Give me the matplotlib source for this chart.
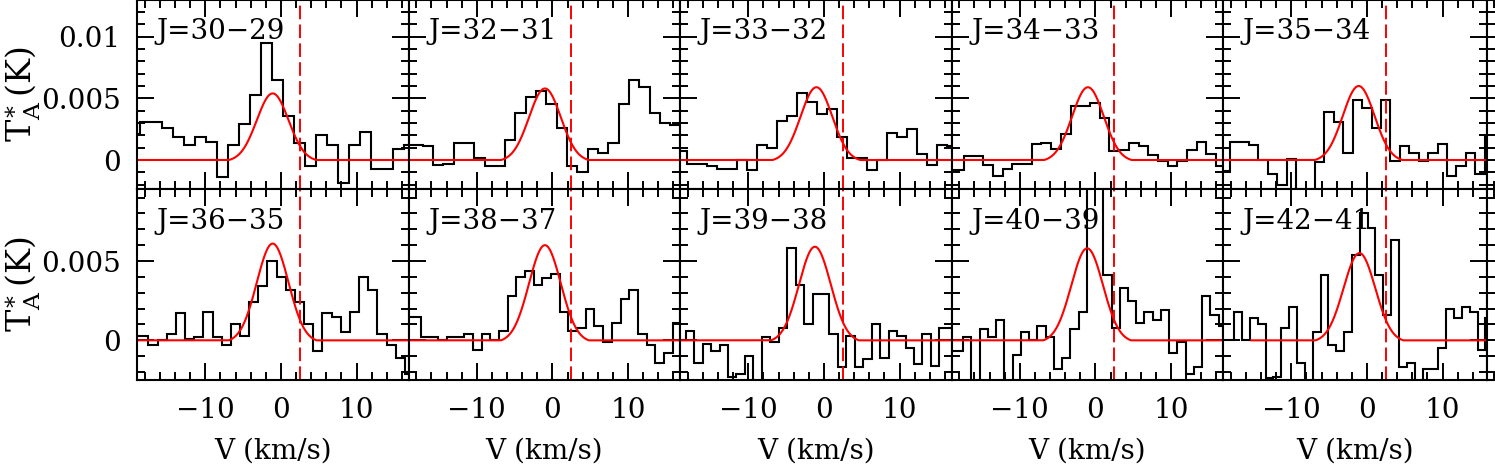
# -*- coding: utf-8 -*-
"""
Line spectra of ten rotational transitions with gaussian fits (2 x 5 panels)
"""

import numpy as np
import matplotlib
matplotlib.use("Agg")
import matplotlib.pyplot as plt
from matplotlib.ticker import MultipleLocator, FuncFormatter


plt.rcParams['font.family'] = 'DejaVu Serif'
plt.rcParams['mathtext.fontset'] = 'dejavuserif'
plt.rcParams['font.size'] = 20


# Data ------------------------------------------------------------------------

labels = ["J=30\u221229", "J=32\u221231", "J=33\u221232", "J=34\u221233",
          "J=35\u221234", "J=36\u221235", "J=38\u221237", "J=39\u221238",
          "J=40\u221239", "J=42\u221241"]

# first channel edge and channel width (km/s)
v_start = [-20.12, -19.90, -19.41, -19.97, -19.33,
           -19.95, -19.68, -19.40, -19.68, -19.64]
chan_width = [1.454, 1.364, 1.320, 1.283, 1.246,
              1.211, 1.147, 1.118, 1.090, 1.038]

spec_30 = [0.0021, 0.0031, 0.0031, 0.0026, 0.0019, 0.0012, 0.0019, 0.0015,
           -0.0014, 0.0012, 0.0029, 0.0053, 0.0095, 0.0065, 0.0036, 0.0014,
           -0.0005, 0.0020, 0.0012, -0.0019, 0.0012, 0.0023, -0.0007,
           -0.0007, 0.0009, 0.0012]
spec_32 = [0.0012, 0.0012, 0.0011, -0.0004, -0.0003, 0.0014, 0.0014, 0.0002,
           -0.0005, -0.0005, 0.0016, 0.0038, 0.0051, 0.0056, 0.0045, 0.0026,
           -0.0005, -0.0010, 0.0009, 0.0006, 0.0014, 0.0045, 0.0065, 0.0059,
           0.0038, 0.0030, 0.0028]
spec_33 = [0.0007, -0.0003, -0.0003, -0.0005, -0.0007, -0.0007, 0.0000,
           -0.0008, 0.0012, 0.0010, 0.0032, 0.0036, 0.0054, 0.0047, 0.0037,
           0.0041, 0.0019, 0.0002, 0.0002, -0.0008, 0.0000, 0.0022, 0.0019,
           0.0025, 0.0005, -0.0004, 0.0012, 0.0011]
spec_34 = [-0.0008, -0.0008, 0.0003, 0.0003, -0.0004, -0.0013, -0.0007,
           -0.0003, -0.0003, 0.0013, 0.0014, 0.0009, 0.0021, 0.0044, 0.0044,
           0.0046, 0.0034, 0.0007, 0.0008, 0.0014, 0.0011, 0.0004, -0.0001,
           -0.0005, -0.0001, 0.0008, 0.0015, 0.0005, -0.0005]
spec_35 = [-0.0009, 0.0015, 0.0015, 0.0012, 0.0000, -0.0011, -0.0020, 0.0001,
           -0.0030, -0.0030, -0.0002, 0.0039, 0.0031, 0.0006, 0.0049, 0.0042,
           0.0026, 0.0049, -0.0001, 0.0011, 0.0006, -0.0001, 0.0006, 0.0013,
           -0.0013, -0.0005, 0.0006, -0.0011, 0.0020]
spec_36 = [0.0003, 0.0003, -0.0003, 0.0000, 0.0004, 0.0017, 0.0001, 0.0002,
           0.0018, 0.0002, -0.0003, 0.0010, 0.0003, 0.0024, 0.0034, 0.0050,
           0.0040, 0.0032, 0.0024, 0.0010, -0.0007, 0.0017, 0.0015, 0.0005,
           0.0018, 0.0040, 0.0032, 0.0004, -0.0003, -0.0011, -0.0021]
spec_38 = [0.0015, 0.0015, 0.0002, 0.0002, 0.0000, 0.0002, 0.0002, 0.0004,
           -0.0006, 0.0004, 0.0000, 0.0006, 0.0028, 0.0040, 0.0044, 0.0035,
           0.0039, 0.0042, 0.0018, 0.0006, 0.0008, 0.0020, 0.0009, -0.0001,
           0.0011, 0.0026, 0.0032, 0.0004, -0.0003, -0.0014, -0.0008, 0.0011]
spec_39 = [0.0000, 0.0006, -0.0014, -0.0002, -0.0007, -0.0003, -0.0023,
           -0.0021, -0.0010, -0.0026, 0.0002, -0.0001, 0.0008, 0.0058, 0.0035,
           0.0010, 0.0029, 0.0029, 0.0004, -0.0017, 0.0003, -0.0017, -0.0012,
           0.0010, -0.0011, 0.0006, 0.0003, -0.0005, -0.0015, 0.0004, -0.0016,
           0.0008, 0.0008]
spec_40 = [-0.0007, -0.0007, 0.0002, -0.0030, 0.0007, 0.0002, 0.0013, -0.0030,
           -0.0009, 0.0005, 0.0000, 0.0009, 0.0002, -0.0018, -0.0011, 0.0007,
           0.0018, 0.0105, 0.0100, 0.0041, 0.0008, 0.0033, 0.0025, 0.0011,
           0.0018, 0.0013, 0.0019, -0.0008, -0.0001, -0.0021, -0.0017, 0.0028,
           0.0016, 0.0009]
spec_42 = [0.0000, 0.0000, 0.0018, 0.0000, 0.0014, 0.0010, -0.0024, -0.0023,
           0.0008, 0.0021, -0.0014, -0.0030, 0.0005, 0.0041, -0.0003, -0.0007,
           0.0005, 0.0054, 0.0080, 0.0071, 0.0041, 0.0016, 0.0063, -0.0017,
           -0.0014, -0.0030, -0.0018, -0.0018, -0.0005, 0.0020, 0.0014, 0.0021,
           0.0018, -0.0006, 0.0014, 0.0014]

spectra = [spec_30, spec_32, spec_33, spec_34, spec_35,
           spec_36, spec_38, spec_39, spec_40, spec_42]

# gaussian fits (zero outside +/- fit_half km/s of the centre)
fit_amp = [0.0054, 0.0058, 0.0059, 0.0059, 0.0060,
           0.0061, 0.0060, 0.0059, 0.0058, 0.0055]
fit_cen = [-1.1, -1.0, -1.0, -1.0, -1.1,
           -1.1, -1.0, -1.2, -1.1, -1.0]
fit_sig = [2.1] * 10
fit_half = [5.8] * 10
fit_vmin = [-19.5] * 9 + [-15.3]

v_sys = 2.5


# Layout (pixels of the 1495 x 467 figure) ------------------------------------

W, H = 1495.0, 467.0

col_left = [137.3, 408.8, 680.3, 951.8, 1223.3, 1486.7]
col_width = [271.5, 271.5, 271.5, 271.5, 263.4, 271.5]
row_top = [0.0, 189.0]
row_height = [189.0, 191.0]

px_per_kms = 271.5 / 35.9
y_limits = [(-0.00235, 0.01297), (-0.0025, 0.00954)]


def fmt_y(v, pos):
    return "%g" % round(v, 4)


fig = plt.figure(figsize=(W / 100, H / 100), dpi=100)

for row in range(2):

    for col in range(6):

        left = col_left[col] / W
        bottom = 1 - (row_top[row] + row_height[row]) / H
        ax = fig.add_axes([left, bottom, col_width[col] / W,
                           row_height[row] / H])

        ax.set_xlim(-19.0, -19.0 + col_width[col] / px_per_kms)
        ax.set_ylim(y_limits[row])

        ax.xaxis.set_major_locator(MultipleLocator(10))
        ax.xaxis.set_minor_locator(MultipleLocator(2))
        ax.yaxis.set_major_locator(MultipleLocator(0.005))
        ax.yaxis.set_minor_locator(MultipleLocator(0.001))
        ax.yaxis.set_major_formatter(FuncFormatter(fmt_y))

        ax.tick_params(which='both', direction='in', top=True, right=True,
                       width=1.4, pad=12)
        ax.tick_params(which='major', length=12)
        ax.tick_params(which='minor', length=6)

        for sp in ax.spines.values():
            sp.set_linewidth(1.5)

        if col > 0:
            ax.tick_params(labelleft=False)
        if row == 0:
            ax.tick_params(labelbottom=False)

        # the cut-off panel on the right edge
        if col == 5:
            ax.tick_params(labelbottom=False)
            continue

        k = row * 5 + col
        spec = spectra[k]

        edges = v_start[k] + chan_width[k] * np.arange(len(spec) + 1)
        ax.stairs(spec, edges, baseline=None, color='black', lw=1.5)

        vv = np.linspace(fit_vmin[k], 18.0, 800)
        g = np.exp(-0.5 * ((vv - fit_cen[k]) / fit_sig[k]) ** 2)
        g_edge = np.exp(-0.5 * (fit_half[k] / fit_sig[k]) ** 2)
        model = fit_amp[k] * np.clip((g - g_edge) / (1 - g_edge), 0, None)
        ax.plot(vv, model, color='red', lw=1.5)

        ax.axvline(v_sys, color='red', lw=1.4, ls=(0, (7, 2.7)))

        ax.text(0.071, 0.905 if row == 0 else 0.9, labels[k],
                transform=ax.transAxes, ha='left', va='top')

        if row == 1:
            ax.text(0.5, -0.372, "V (km/s)", transform=ax.transAxes,
                    ha='center', va='center')


# y axis labels ---------------------------------------------------------------

for row in range(2):

    yc = 1 - (row_top[row] + row_height[row] / 2) / H
    fig.text(23 / W, yc, r'$\mathrm{T_A^{\ast}\,(K)}$', rotation=90,
             ha='center', va='center', fontsize=24)


fig.savefig("out.png", dpi=100)
